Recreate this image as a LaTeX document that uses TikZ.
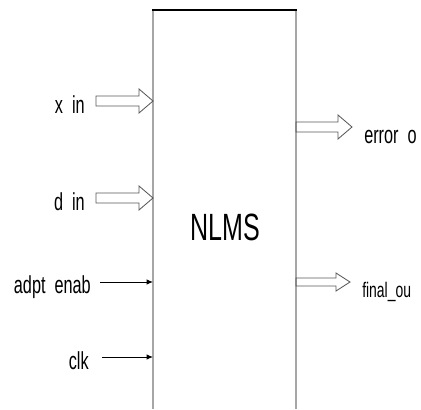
\documentclass[tikz,border=0pt]{standalone}
\usepackage{fontspec}
\setmainfont{Liberation Sans}[FakeStretch=0.66]
\usetikzlibrary{positioning, arrows.meta, calc}

\tikzset{
  fat shaft/.store in=\fatshaft, fat shaft=5,
  fat head/.store in=\fathead, fat head=12,
}

\begin{document}
\begin{tikzpicture}[
  x=0.025cm, y=-0.025cm,
  > = {Latex[length=1.6mm, width=1.4mm]},
  lbl/.style={font=\fontsize{17.5}{17.5}\selectfont, inner sep=0pt},
  side/.style={draw=black!35, line width=1.4pt},
  sig/.style={->, line width=0.7pt},
  fat/.style={draw=black!65, line width=0.6pt,
              to path={($(\tikztostart)+(0,-\fatshaft)$)
                -- ($(\tikztotarget)+(-14,-\fatshaft)$)
                -- ($(\tikztotarget)+(-14,-\fathead)$)
                -- (\tikztotarget)
                -- ($(\tikztotarget)+(-14,\fathead)$)
                -- ($(\tikztotarget)+(-14,\fatshaft)$)
                -- ($(\tikztostart)+(0,\fatshaft)$) -- cycle}}
]
  \useasboundingbox (0,0) rectangle (421,409);

  % --- NLMS block (open at the bottom) ---
  \draw[side] (153,409) -- (153,10);
  \draw[side] (296,409) -- (296,10);
  \draw[line width=1pt] (152,10) -- (297,10);
  \node[font=\fontsize{27}{27}\selectfont, inner sep=0pt, anchor=base]
    (nlms) at (225,240) {NLMS};

  % --- bus inputs ---
  \node[lbl, anchor=base east] (xin) at (85,113) {x\ \ in};
  \coordinate (xin-s) at (96,101);
  \coordinate (xin-e) at (153,101);
  \draw[fat] (xin-s) to (xin-e);

  \node[lbl, anchor=base east] (din) at (85,210) {d\ \ in};
  \coordinate (din-s) at (96,198);
  \coordinate (din-e) at (153,198);
  \draw[fat] (din-s) to (din-e);

  % --- single bit inputs ---
  \node[lbl, anchor=base east] (adpt) at (91,293) {adpt\ \ enab};
  \coordinate (adpt-e) at (153,282);
  \draw[sig] (adpt-e -| 100,0) -- (adpt-e);

  \node[lbl, anchor=base east] (clk) at (89,369) {clk};
  \coordinate (clk-e) at (153,357);
  \draw[sig] (clk-e -| 102,0) -- (clk-e);

  % --- outputs ---
  \coordinate (err-s) at (296,127);
  \coordinate (err-e) at (352,127);
  \draw[fat] (err-s) to (err-e);
  \node[lbl, anchor=base west] (err) at (364,143) {error\ \ o};

  \coordinate (fin-s) at (296,282);
  \coordinate (fin-e) at (350,282);
  \draw[fat, fat shaft=4, fat head=9] (fin-s) to (fin-e);
  \node[lbl, anchor=base west, font=\fontsize{15}{15}\selectfont]
    (fin) at (362,297) {final\_ou};
\end{tikzpicture}
\end{document}
